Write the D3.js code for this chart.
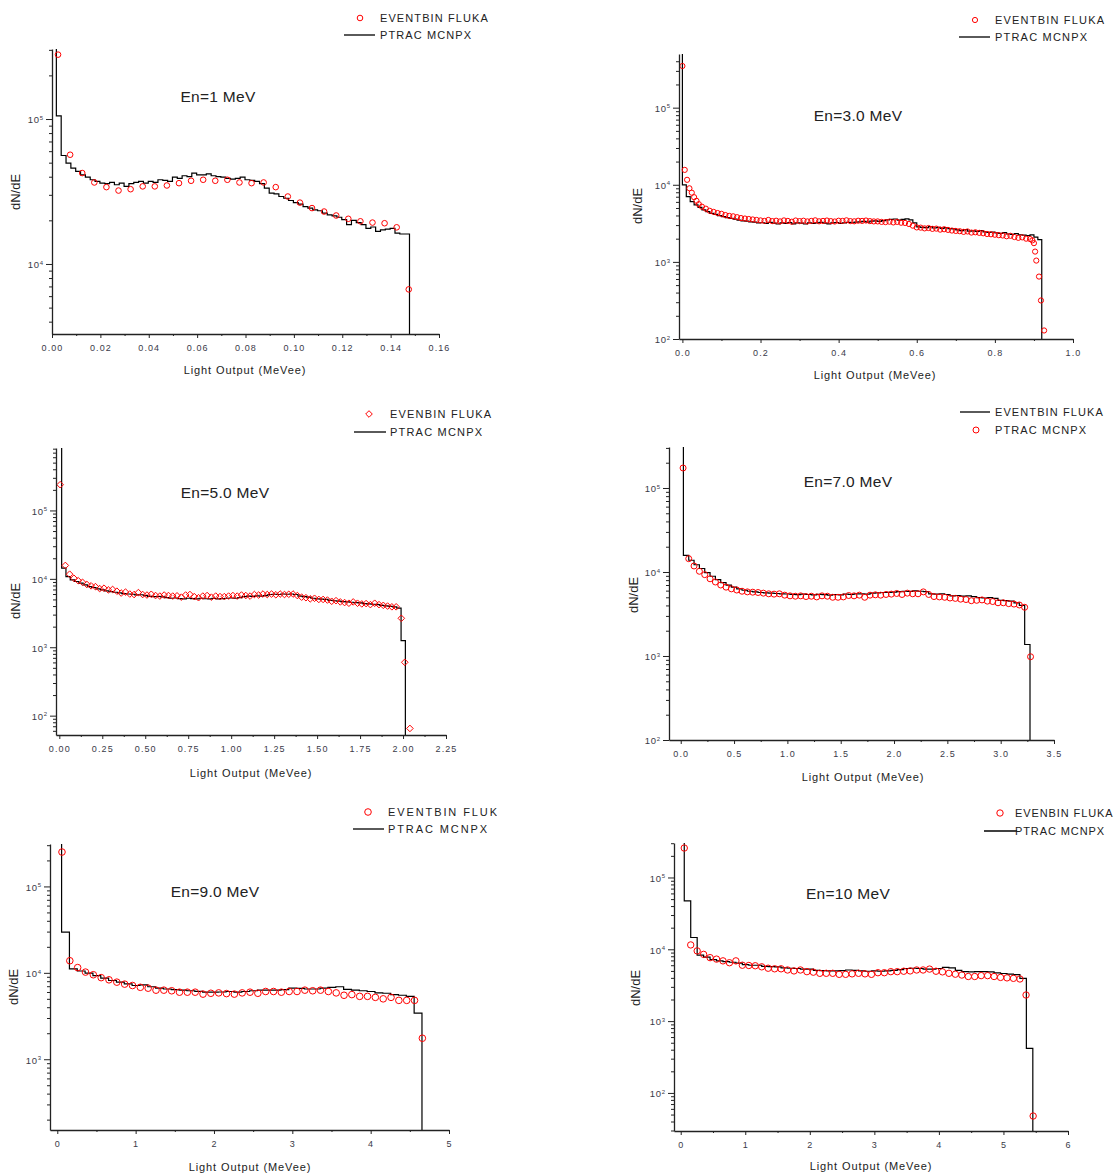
<!DOCTYPE html>
<html>
<head>
<meta charset="utf-8">
<script src="https://cdn.jsdelivr.net/npm/d3@7"></script>
<style>
  body { margin: 0; background: #fff; }
  svg text { font-family: Arial, "Liberation Sans", sans-serif; }
</style>
</head>
<body>
<div id="chart"></div>
<script>
// ---- data ----
// MCNPX histograms: first bin edge, bin width, bin contents (first bin is the off-scale spike)
var mcnpx1Edge0 = -0.0002, mcnpx1Width = 0.002;
var mcnpx1 = [1e7, 1.05e5, 5.6e4, 4.97e4, 4.58e4, 4.35e4, 4.12e4, 3.97e4, 3.81e4, 3.71e4, 3.61e4,
  3.58e4, 3.65e4, 3.52e4, 3.61e4, 3.43e4, 3.58e4, 3.65e4, 3.71e4, 3.61e4, 3.71e4, 3.65e4, 3.81e4,
  3.77e4, 3.71e4, 3.97e4, 3.90e4, 4.06e4, 4.01e4, 4.24e4, 4.12e4, 4.12e4, 4.19e4, 4.06e4, 4.01e4,
  3.97e4, 3.90e4, 3.85e4, 3.90e4, 3.97e4, 3.81e4, 3.77e4, 3.71e4, 3.58e4, 3.34e4, 3.08e4, 3.05e4,
  2.92e4, 2.84e4, 2.74e4, 2.65e4, 2.59e4, 2.49e4, 2.43e4, 2.36e4, 2.33e4, 2.24e4, 2.18e4, 2.15e4,
  2.10e4, 2.02e4, 1.87e4, 2.00e4, 1.93e4, 1.87e4, 1.76e4, 1.80e4, 1.68e4, 1.72e4, 1.74e4, 1.76e4,
  1.63e4, 1.61e4, 1.61e4];

var mcnpx3Edge0 = -0.01, mcnpx3Width = 0.01;
var mcnpx3 = [1e7, 1.0e4, 7.0e3, 6.05e3, 5.48e3, 5.1e3, 4.72e3, 4.49e3, 4.27e3, 4.14e3, 3.98e3,
  3.86e3, 3.74e3, 3.66e3, 3.58e3, 3.48e3, 3.41e3, 3.37e3, 3.30e3, 3.27e3, 3.2e3,
  3.22e3, 3.15e3, 3.25e3, 3.18e3, 3.1e3, 3.2e3, 3.16e3, 3.24e3, 3.12e3, 3.2e3, 3.18e3, 3.1e3, 3.22e3,
  3.15e3, 3.2e3, 3.25e3, 3.18e3, 3.12e3, 3.2e3, 3.24e3, 3.16e3, 3.2e3, 3.26e3, 3.22e3, 3.28e3,
  3.3e3, 3.35e3, 3.28e3, 3.38e3, 3.4e3, 3.36e3, 3.42e3,
  3.5e3, 3.55e3, 3.6e3, 3.48e3, 3.56e3, 3.62e3, 3.5e3, 3.2e3,
  2.85e3, 2.8e3, 2.78e3, 2.86e3, 2.75e3, 2.8e3, 2.72e3, 2.78e3, 2.7e3, 2.68e3,
  2.6e3, 2.55e3, 2.62e3, 2.5e3, 2.52e3, 2.48e3, 2.55e3, 2.45e3, 2.42e3, 2.44e3,
  2.38e3, 2.35e3, 2.4e3, 2.3e3, 2.28e3, 2.32e3, 2.25e3, 2.22e3, 2.2e3, 2.24e3, 2.1e3, 1.95e3];

var mcnpx5Edge0 = -0.0114, mcnpx5Width = 0.025;
var mcnpx5 = [1e7, 1.43e4, 1.08e4, 9.66e3, 9.14e3, 8.64e3, 8.17e3, 7.72e3, 7.47e3, 7.14e3, 6.90e3,
  6.67e3, 6.52e3, 6.37e3, 6.23e3, 6.09e3, 6.0e3, 5.95e3, 5.83e3, 5.85e3, 5.70e3,
  5.55e3, 5.5e3, 5.52e3, 5.45e3,
  5.3e3, 5.2e3, 5.25e3, 5.15e3, 5.1e3, 5.2e3, 5.15e3, 5.1e3, 5.2e3, 5.12e3, 5.1e3, 5.18e3, 5.1e3, 5.15e3,
  5.2e3, 5.25e3, 5.2e3, 5.3e3,
  5.5e3, 5.6e3, 5.55e3, 5.65e3, 5.6e3, 5.7e3,
  5.9e3, 5.95e3, 5.9e3, 6.0e3, 5.95e3, 6.0e3, 5.9e3,
  5.6e3, 5.5e3, 5.4e3,
  5.2e3, 5.1e3, 5.05e3, 5.0e3,
  4.85e3, 4.78e3, 4.72e3, 4.65e3,
  4.6e3, 4.55e3, 4.5e3, 4.45e3,
  4.35e3, 4.3e3, 4.25e3, 4.2e3,
  4.1e3, 4.02e3, 3.95e3, 3.9e3, 3.74e3, 1.25e3];

var mcnpx7Edge0 = -0.025, mcnpx7Width = 0.05;
var mcnpx7 = [1e7, 1.58e4, 1.38e4, 1.22e4, 1.10e4, 9.85e3, 8.9e3, 8.13e3, 7.48e3, 6.96e3, 6.59e3,
  6.3e3, 6.06e3, 5.9e3, 5.8e3, 5.7e3, 5.65e3, 5.6e3, 5.55e3, 5.5e3, 5.47e3,
  5.42e3, 5.38e3, 5.45e3, 5.4e3, 5.35e3, 5.42e3, 5.38e3, 5.3e3, 5.4e3, 5.35e3,
  5.45e3, 5.4e3, 5.48e3, 5.5e3, 5.45e3,
  5.6e3, 5.65e3, 5.7e3, 5.72e3, 5.75e3,
  5.85e3, 5.9e3, 5.88e3, 5.95e3, 5.9e3, 5.85e3,
  5.5e3, 5.45e3, 5.48e3, 5.4e3,
  5.2e3, 5.25e3, 5.15e3, 5.2e3, 5.1e3,
  4.95e3, 4.9e3, 4.95e3, 4.85e3,
  4.6e3, 4.55e3, 4.5e3, 4.3e3, 4.0e3, 1.37e3];

var mcnpx9Edge0 = -0.045, mcnpx9Width = 0.1;
var mcnpx9 = [1e7, 2.96e4, 1.11e4, 1.05e4, 9.9e3, 9.3e3, 8.67e3, 8.15e3, 7.8e3, 7.46e3, 7.13e3,
  7.27e3, 6.9e3, 6.65e3, 6.5e3, 6.4e3, 6.3e3, 6.2e3, 6.1e3, 5.97e3, 5.97e3,
  6.0e3, 6.08e3, 5.97e3, 6.08e3, 6.2e3, 6.3e3, 6.3e3, 6.3e3, 6.4e3, 6.65e3,
  6.6e3, 6.5e3, 6.5e3, 6.65e3, 6.8e3, 6.9e3, 6.45e3, 6.3e3, 6.2e3, 6.08e3,
  5.86e3, 5.8e3, 5.6e3, 5.5e3, 5.34e3, 3.41e3];

var mcnpx10Edge0 = -0.045, mcnpx10Width = 0.1;
var mcnpx10 = [1e7, 4.72e4, 1.46e4, 8.3e3, 7.8e3, 7.2e3, 6.9e3, 6.75e3, 6.6e3, 6.4e3, 6.1e3,
  6.0e3, 6.0e3, 5.8e3, 5.75e3, 5.7e3, 5.5e3, 5.45e3, 5.4e3, 5.3e3, 5.3e3,
  5.1e3, 5.05e3, 5.0e3, 5.0e3, 5.05e3, 5.15e3, 5.1e3, 5.0e3, 4.95e3, 5.0e3,
  4.95e3, 5.0e3, 5.1e3, 5.2e3, 5.4e3, 5.45e3, 5.4e3, 5.3e3, 5.3e3, 5.4e3,
  5.6e3, 5.5e3, 5.1e3, 4.9e3, 4.85e3, 4.9e3, 4.9e3, 4.85e3, 4.7e3, 4.6e3,
  4.5e3, 4.45e3, 3.94e3, 416];

// FLUKA points: first x, spacing, values, plus irregular head / tail points
var fluka1X0 = 0.0025, fluka1Dx = 0.005;
var fluka1 = [2.78e5, 5.67e4, 4.24e4, 3.65e4, 3.39e4, 3.21e4, 3.28e4, 3.43e4, 3.43e4, 3.48e4,
  3.61e4, 3.75e4, 3.81e4, 3.75e4, 3.81e4, 3.65e4, 3.61e4, 3.65e4, 3.39e4, 2.92e4,
  2.65e4, 2.43e4, 2.30e4, 2.16e4, 2.05e4, 1.97e4, 1.93e4, 1.91e4, 1.79e4, 6.68e3];
var fluka1Head = [], fluka1Tail = [];

var fluka3X0 = 0.06, fluka3Dx = 0.01;
var fluka3 = [4.9e3, 4.6e3, 4.45e3, 4.3e3, 4.2e3, 4.05e3, 3.95e3, 3.9e3, 3.8e3, 3.7e3, 3.65e3, 3.6e3, 3.55e3, 3.5e3,
  3.45e3, 3.4e3, 3.5e3, 3.38e3, 3.42e3, 3.35e3, 3.45e3, 3.4e3, 3.32e3, 3.44e3, 3.38e3, 3.42e3, 3.35e3, 3.4e3, 3.46e3,
  3.36e3, 3.4e3, 3.44e3, 3.38e3, 3.34e3, 3.42e3, 3.4e3, 3.46e3, 3.38e3, 3.36e3, 3.42e3, 3.4e3, 3.44e3, 3.38e3, 3.35e3,
  3.35e3, 3.3e3, 3.28e3, 3.32e3, 3.25e3, 3.3e3, 3.22e3, 3.2e3, 3.1e3, 2.95e3,
  2.8e3, 2.78e3, 2.72e3, 2.75e3, 2.68e3, 2.7e3, 2.62e3, 2.65e3, 2.6e3, 2.55e3,
  2.52e3, 2.5e3, 2.45e3, 2.48e3, 2.4e3, 2.42e3, 2.38e3, 2.35e3, 2.3e3, 2.28e3,
  2.25e3, 2.22e3, 2.2e3, 2.15e3, 2.18e3, 2.1e3, 2.05e3, 2.08e3, 2.0e3, 1.98e3];
var fluka3Head = [[0.0, 3.47e5], [0.006, 1.56e4], [0.012, 1.16e4], [0.018, 9.0e3], [0.024, 7.9e3],
  [0.03, 6.9e3], [0.036, 6.2e3], [0.042, 5.6e3], [0.05, 5.2e3]];
var fluka3Tail = [[0.896, 1.9e3], [0.9, 1.75e3], [0.903, 1.36e3], [0.906, 1.04e3], [0.913, 645], [0.918, 316], [0.926, 129]];

var fluka5X0 = 0.035, fluka5Dx = 0.025;
var fluka5 = [1.57e4, 1.17e4, 1.02e4, 9.4e3, 8.9e3, 8.3e3, 7.9e3, 7.7e3, 7.2e3, 7.3e3,
  6.9e3, 7.0e3, 6.6e3, 6.2e3, 6.4e3, 6.0e3, 5.9e3, 6.3e3, 5.9e3, 5.8e3,
  5.95e3, 5.7e3, 5.6e3, 5.8e3, 5.7e3, 5.6e3, 5.65e3, 5.4e3, 5.8e3, 5.9e3,
  5.5e3, 5.3e3, 5.6e3, 5.7e3, 5.4e3, 5.6e3, 5.5e3, 5.5e3, 5.6e3, 5.7e3,
  5.6e3, 5.8e3, 5.7e3, 5.6e3, 5.9e3, 5.8e3, 6.0e3, 5.9e3, 6.0e3, 5.85e3,
  6.0e3, 5.9e3, 5.95e3, 6.0e3, 5.7e3, 5.4e3, 5.3e3, 5.1e3, 5.2e3, 5.0e3,
  5.0e3, 4.9e3, 4.7e3, 4.8e3, 4.6e3, 4.5e3, 4.4e3, 4.6e3, 4.4e3, 4.3e3,
  4.35e3, 4.2e3, 4.4e3, 4.2e3, 4.1e3, 4.0e3, 3.9e3, 3.9e3];
var fluka5Head = [[0.005, 2.38e5]];
var fluka5Tail = [[1.99, 2.65e3], [2.01, 603], [2.04, 65]];

var fluka7X0 = 0.075, fluka7Dx = 0.05;
var fluka7 = [1.44e4, 1.18e4, 1.02e4, 9.3e3, 8.3e3, 7.6e3, 7.0e3, 6.6e3, 6.3e3, 6.1e3,
  5.9e3, 5.8e3, 5.75e3, 5.7e3, 5.6e3, 5.5e3, 5.45e3, 5.5e3, 5.3e3, 5.2e3,
  5.15e3, 5.2e3, 5.1e3, 5.15e3, 5.05e3, 5.2e3, 5.15e3, 5.0e3, 5.0e3, 5.05e3,
  5.25e3, 5.2e3, 5.3e3, 5.0e3, 5.3e3, 5.35e3, 5.3e3, 5.4e3, 5.45e3, 5.55e3,
  5.4e3, 5.6e3, 5.5e3, 5.5e3, 5.8e3, 5.4e3, 5.1e3, 5.05e3, 5.0e3, 4.9e3,
  4.85e3, 4.75e3, 4.7e3, 4.55e3, 4.6e3, 4.65e3, 4.5e3, 4.45e3, 4.3e3, 4.3e3,
  4.2e3, 4.15e3, 4.05e3, 3.8e3];
var fluka7Head = [[0.022, 1.73e5]];
var fluka7Tail = [[3.28, 980]];

var fluka9X0 = 0.06, fluka9Dx = 0.1;
var fluka9 = [2.5e5, 1.38e4, 1.15e4, 1.02e4, 9.5e3, 8.8e3, 8.3e3, 7.8e3, 7.4e3, 7.13e3,
  6.8e3, 6.64e3, 6.3e3, 6.3e3, 6.2e3, 5.97e3, 5.97e3, 5.97e3, 5.67e3, 5.8e3,
  5.86e3, 5.75e3, 5.67e3, 5.86e3, 5.97e3, 5.8e3, 6.08e3, 6.08e3, 5.97e3, 6.08e3,
  6.08e3, 6.3e3, 6.2e3, 6.3e3, 6.08e3, 5.86e3, 5.5e3, 5.6e3, 5.34e3, 5.34e3,
  5.2e3, 5.0e3, 5.2e3, 4.8e3, 4.8e3, 4.8e3, 1.75e3];
var fluka9Head = [], fluka9Tail = [];

var fluka10X0 = 0.055, fluka10Dx = 0.1;
var fluka10 = [2.57e5, 1.15e4, 9.5e3, 8.5e3, 7.65e3, 7.3e3, 6.9e3, 6.5e3, 6.9e3, 6.0e3,
  5.95e3, 5.9e3, 5.7e3, 5.45e3, 5.35e3, 5.35e3, 5.15e3, 5.0e3, 5.15e3, 4.88e3,
  4.8e3, 4.63e3, 4.63e3, 4.63e3, 4.48e3, 4.48e3, 4.55e3, 4.63e3, 4.55e3, 4.48e3,
  4.72e3, 4.72e3, 4.88e3, 4.88e3, 4.95e3, 5.0e3, 5.15e3, 5.15e3, 5.3e3, 4.95e3,
  4.85e3, 4.63e3, 4.5e3, 4.38e3, 4.18e3, 4.18e3, 4.3e3, 4.3e3, 4.18e3, 4.06e3,
  4.0e3, 3.94e3, 3.86e3];
var fluka10Head = [];
var fluka10Tail = [[5.35, 2.31e3], [5.46, 47.7]];

// tick labels
var xTicks1 = [0, 0.02, 0.04, 0.06, 0.08, 0.10, 0.12, 0.14, 0.16];
var xTicks3 = [0, 0.2, 0.4, 0.6, 0.8, 1.0];
var xTicks5 = [0, 0.25, 0.5, 0.75, 1.0, 1.25, 1.5, 1.75, 2.0, 2.25];
var xTicks7 = [0, 0.5, 1.0, 1.5, 2.0, 2.5, 3.0, 3.5];
var xTicks9 = [0, 1, 2, 3, 4, 5];
var xTicks10 = [0, 1, 2, 3, 4, 5, 6];
var titles = ["En=1 MeV", "En=3.0 MeV", "En=5.0 MeV", "En=7.0 MeV", "En=9.0 MeV", "En=10 MeV"];

// ---- layout ----
var panels = [
  {hist: mcnpx1, e0: mcnpx1Edge0, w: mcnpx1Width, fl: [fluka1Head, fluka1, fluka1X0, fluka1Dx, fluka1Tail],
   left: 52, right: 439, top: 49, bottom: 334, xDom: [0, 0.16], logY: [3.517, 5.483],
   xTicks: xTicks1, xMinor: 0.01, fmt: ".2f", r: 2.8, marker: "circle",
   title: [218, 97], xt: [245, 370], yt: [15, 192],
   leg: {x: 380, y1: 18, y2: 35, mx: 360, lx: [344, 375], t1: "EVENTBIN FLUKA", t2: "PTRAC MCNPX", swap: false, ls: 1.1}},
  {hist: mcnpx3, e0: mcnpx3Edge0, w: mcnpx3Width, fl: [fluka3Head, fluka3, fluka3X0, fluka3Dx, fluka3Tail],
   left: 679, right: 1073, top: 54, bottom: 339, xDom: [-0.0087, 1.0], logY: [2, 5.696],
   xTicks: xTicks3, xMinor: 0.1, fmt: ".1f", r: 2.6, marker: "circle",
   title: [858, 116], xt: [875, 375], yt: [637, 206],
   leg: {x: 995, y1: 20, y2: 37, mx: 975, lx: [959, 990], t1: "EVENTBIN FLUKA", t2: "PTRAC MCNPX", swap: false, ls: 1.2}},
  {hist: mcnpx5, e0: mcnpx5Edge0, w: mcnpx5Width, fl: [fluka5Head, fluka5, fluka5X0, fluka5Dx, fluka5Tail],
   left: 56, right: 446, top: 448, bottom: 735, xDom: [-0.0193, 2.25], logY: [1.717, 5.913],
   xTicks: xTicks5, xMinor: 0.125, fmt: ".2f", r: 3.3, marker: "diamond",
   title: [225, 493], xt: [251, 773], yt: [15, 601],
   leg: {x: 390, y1: 414, y2: 432, mx: 369, lx: [354, 386], t1: "EVENBIN FLUKA", t2: "PTRAC MCNPX", swap: false, ls: 1.2}},
  {hist: mcnpx7, e0: mcnpx7Edge0, w: mcnpx7Width, fl: [fluka7Head, fluka7, fluka7X0, fluka7Dx, fluka7Tail],
   left: 669, right: 1054, top: 447, bottom: 740, xDom: [-0.11, 3.5], logY: [2, 5.488],
   xTicks: xTicks7, xMinor: 0.25, fmt: ".1f", r: 3, marker: "circle",
   title: [848, 482], xt: [863, 777], yt: [633, 595],
   leg: {x: 995, y1: 412, y2: 430, mx: 976, lx: [960, 990], t1: "EVENTBIN FLUKA", t2: "PTRAC MCNPX", swap: true, ls: 1.1}},
  {hist: mcnpx9, e0: mcnpx9Edge0, w: mcnpx9Width, fl: [fluka9Head, fluka9, fluka9X0, fluka9Dx, fluka9Tail],
   left: 50, right: 449, top: 844, bottom: 1130, xDom: [-0.093, 5], logY: [2.181, 5.491],
   xTicks: xTicks9, xMinor: 0.5, fmt: "d", r: 3.3, marker: "circle",
   title: [215, 892], xt: [250, 1167], yt: [13, 987],
   leg: {x: 388, y1: 812, y2: 829, mx: 368, lx: [353, 384], t1: "EVENTBIN FLUKA", t2: "PTRAC MCNPX", swap: false, ls: 1.9, clip: 497}},
  {hist: mcnpx10, e0: mcnpx10Edge0, w: mcnpx10Width, fl: [fluka10Head, fluka10, fluka10X0, fluka10Dx, fluka10Tail],
   left: 674, right: 1068, top: 843, bottom: 1131, xDom: [-0.104, 6], logY: [1.47, 5.48],
   xTicks: xTicks10, xMinor: 0.5, fmt: "d", r: 3.2, marker: "circle",
   title: [848, 894], xt: [871, 1166], yt: [635, 988],
   leg: {x: 1015, y1: 813, y2: 831, mx: 1000, lx: [984, 1017], t1: "EVENBIN FLUKA", t2: "PTRAC MCNPX", swap: false, ls: 0.9}}
];

var axisColor = "#222", labelColor = "#3a3a48";

function drawMarker(sel, kind, r) {
  if (kind === "diamond") {
    sel.append("path").attr("d", `M0,${-r}L${r},0L0,${r}L${-r},0Z`);
  } else {
    sel.append("circle").attr("r", r);
  }
}

function drawPanel(svg, p, i) {
  var x = d3.scaleLinear().domain(p.xDom).range([p.left, p.right]);
  var yDom = [Math.pow(10, p.logY[0]), Math.pow(10, p.logY[1])];
  var y = d3.scaleLog().domain(yDom).range([p.bottom, p.top]);
  var g = svg.append("g");

  svg.append("clipPath").attr("id", "clip" + i)
    .append("rect").attr("x", p.left).attr("y", p.top)
    .attr("width", p.right - p.left).attr("height", p.bottom - p.top);

  // MCNPX step histogram
  var pts = [];
  p.hist.forEach(function(v, k) {
    var e = p.e0 + k * p.w;
    pts.push([e, v], [e + p.w, v]);
  });
  pts.push([p.e0 + p.hist.length * p.w, yDom[0]]);
  g.append("path")
    .attr("clip-path", "url(#clip" + i + ")")
    .attr("fill", "none").attr("stroke", "#000").attr("stroke-width", 1.2)
    .attr("d", d3.line().x(d => x(d[0])).y(d => y(d[1]))(pts));

  // FLUKA points
  var head = p.fl[0], vals = p.fl[1], x0 = p.fl[2], dx = p.fl[3], tail = p.fl[4];
  var flPts = head.concat(vals.map((v, k) => [x0 + k * dx, v])).concat(tail);
  g.append("g").attr("fill", "none").attr("stroke", "#ff0000").attr("stroke-width", 1)
    .selectAll("g").data(flPts).join("g")
    .attr("transform", d => `translate(${x(d[0])},${y(d[1])})`)
    .each(function() { drawMarker(d3.select(this), p.marker, p.r); });

  // x axis
  var xMinor = [];
  for (var t = p.xMinor; t < p.xDom[1]; t += p.xMinor * 2) xMinor.push(t);
  var fmt = d3.format(p.fmt);
  var gx = g.append("g").attr("transform", `translate(0,${p.bottom})`)
    .call(d3.axisBottom(x).tickValues(p.xTicks).tickFormat(fmt).tickSize(4).tickSizeOuter(0));
  g.append("g").attr("transform", `translate(0,${p.bottom})`)
    .call(d3.axisBottom(x).tickValues(xMinor).tickFormat("").tickSize(2))
    .call(s => s.select(".domain").remove())
    .selectAll("line").attr("stroke", axisColor);
  gx.select(".domain").attr("stroke", axisColor).attr("stroke-width", 1.3);
  gx.selectAll(".tick line").attr("stroke", axisColor);
  gx.selectAll(".tick text").attr("y", 11).attr("fill", labelColor)
    .attr("font-size", 9).attr("letter-spacing", 1.1)
    .attr("font-family", "Arial, 'Liberation Sans', sans-serif");

  // y axis (log, with minor ticks)
  var majors = [], minors = [];
  for (var dpow = Math.floor(p.logY[0]); dpow <= Math.ceil(p.logY[1]); dpow++) {
    for (var m = 1; m < 10; m++) {
      var v = m * Math.pow(10, dpow);
      if (v < yDom[0] * 0.999 || v > yDom[1]) continue;
      (m === 1 ? majors : minors).push(v);
    }
  }
  var gy = g.append("g").attr("transform", `translate(${p.left},0)`)
    .call(d3.axisLeft(y).tickValues(majors).tickSize(6).tickSizeOuter(0).tickFormat(""));
  g.append("g").attr("transform", `translate(${p.left},0)`)
    .call(d3.axisLeft(y).tickValues(minors).tickSize(3).tickFormat(""))
    .call(s => s.select(".domain").remove())
    .selectAll("line").attr("stroke", axisColor);
  gy.select(".domain").attr("stroke", axisColor).attr("stroke-width", 1.3);
  gy.selectAll(".tick line").attr("stroke", axisColor);
  gy.selectAll(".tick text").each(function(d) {
    var t = d3.select(this).text(null).attr("x", -8).attr("dy", "0.4em")
      .attr("fill", labelColor).attr("font-size", 9.5).attr("letter-spacing", 0.8)
      .attr("font-family", "Arial, 'Liberation Sans', sans-serif");
    t.append("tspan").text("10");
    t.append("tspan").attr("dy", "-0.6em").attr("font-size", 6).text(Math.round(Math.log10(d)));
  });

  // labels
  g.append("text").attr("x", p.title[0]).attr("y", p.title[1]).attr("dy", "0.35em")
    .attr("text-anchor", "middle").attr("font-size", 15.5).attr("fill", "#222")
    .attr("letter-spacing", 0.3).text(titles[i]);
  g.append("text").attr("x", p.xt[0]).attr("y", p.xt[1]).attr("dy", "0.35em")
    .attr("text-anchor", "middle").attr("font-size", 11).attr("letter-spacing", 0.9)
    .attr("fill", "#222").text("Light Output (MeVee)");
  g.append("text").attr("transform", `translate(${p.yt[0]},${p.yt[1]}) rotate(-90)`)
    .attr("dy", "0.35em").attr("text-anchor", "middle").attr("font-size", 13)
    .attr("fill", "#222").text("dN/dE");

  // legend
  var L = p.leg;
  var lg = g.append("g");
  if (L.clip) {
    svg.append("clipPath").attr("id", "legclip" + i)
      .append("rect").attr("x", 0).attr("y", L.y1 - 20).attr("width", L.clip).attr("height", 50);
    lg.attr("clip-path", "url(#legclip" + i + ")");
  }
  var markerY = L.swap ? L.y2 : L.y1, lineY = L.swap ? L.y1 : L.y2;
  var mk = lg.append("g").attr("transform", `translate(${L.mx},${markerY})`)
    .attr("fill", "none").attr("stroke", "#ff0000").attr("stroke-width", 1);
  drawMarker(mk, p.marker, p.r);
  lg.append("line").attr("x1", L.lx[0]).attr("x2", L.lx[1]).attr("y1", lineY).attr("y2", lineY)
    .attr("stroke", "#000").attr("stroke-width", 1.3);
  [[L.t1, L.y1], [L.t2, L.y2]].forEach(function(d) {
    lg.append("text").attr("x", L.x).attr("y", d[1]).attr("dy", "0.36em")
      .attr("font-size", 11).attr("letter-spacing", L.ls).attr("fill", "#222").text(d[0]);
  });
}

window.addEventListener("load", function() {
  var svg = d3.select("#chart").append("svg")
    .attr("width", 1117).attr("height", 1173);
  panels.forEach(function(p, i) { drawPanel(svg, p, i); });
});
</script>
</body>
</html>
